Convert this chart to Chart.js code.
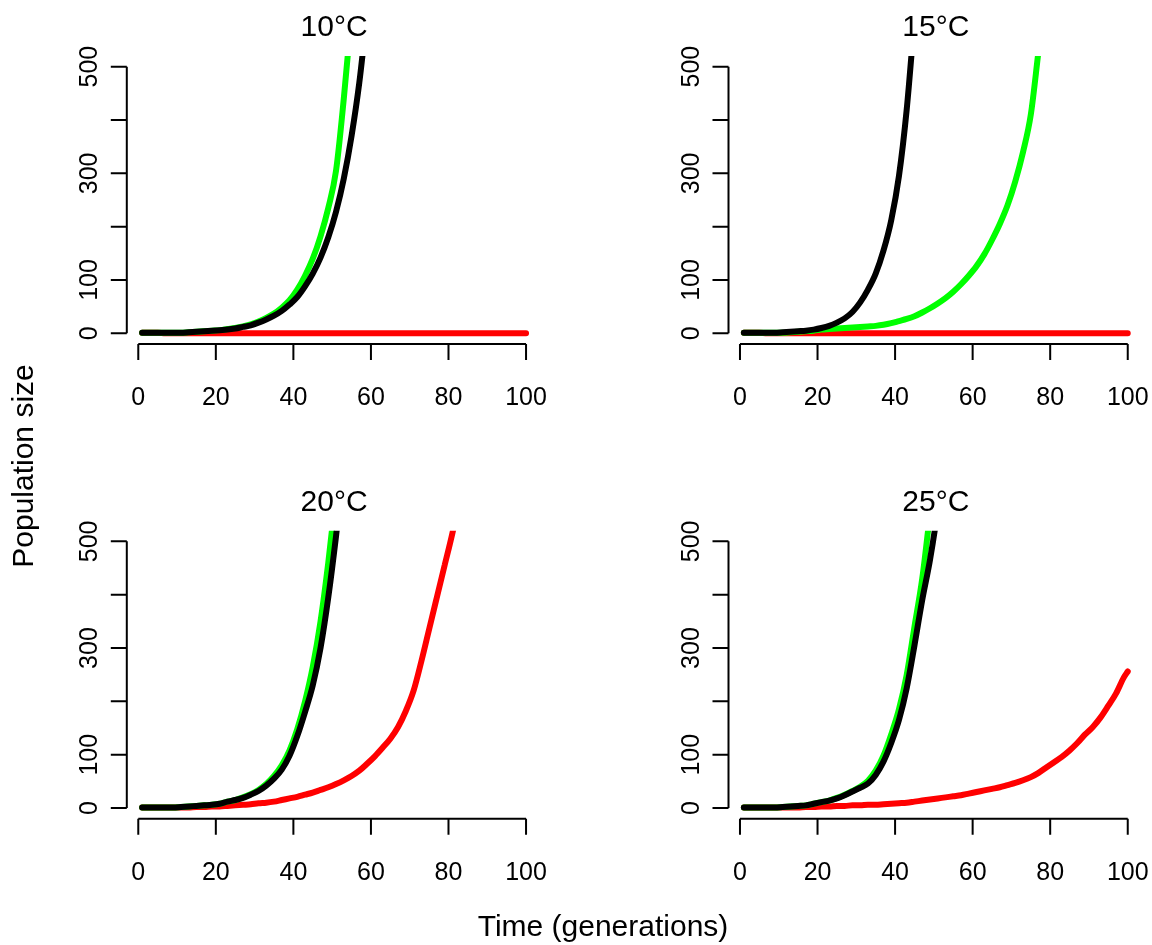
<!DOCTYPE html>
<html><head><meta charset="utf-8">
<script src="https://cdn.jsdelivr.net/npm/chart.js@4.4.0/dist/chart.umd.min.js"></script>
<style>
html,body{margin:0;padding:0;background:#fff;}
#wrap{position:relative;width:1152px;height:945px;overflow:hidden;background:#fff;}
#wrap canvas{position:absolute;left:0;top:0;}
</style></head><body>
<div id="wrap">
<canvas id="c0" width="1152" height="945"></canvas>
<canvas id="c1" width="1152" height="945"></canvas>
<canvas id="c2" width="1152" height="945"></canvas>
<canvas id="c3" width="1152" height="945"></canvas>
</div>
<script>
// ---------- data ----------
const generations = [1,3,5,7,9,11,13,15,17,19,21,23,25,27,29,31,33,35,37,39,41,43,45,47,49,51,53,55,57,59,61,63,65,67,69,71,73,75,77,79,81,83,85,87,89,91,93,95,97,99,100];
const panelTitles = ['10\u00B0C','15\u00B0C','20\u00B0C','25\u00B0C'];
const xTicks = [0,20,40,60,80,100];
const yTicks = [0,100,200,300,400,500];
const yTickLabels = ['0','100','','300','','500'];
const xAxisTitle = 'Time (generations)';
const yAxisTitle = 'Population size';

// 10°C
const green10 = [1,1,1,1,1,1,2,3,4,5,6,8,10,13,17,22,29,37,48,62,82,108,140,182,235,305,440,600];
const black10 = [1,1,1,1,1,1,2,3,4,5,6,7,9,12,15,20,26,33,42,54,68,88,112,142,180,228,290,370,470,600];
const red10   = [1,1,1,0,0,0,0,0,0,0,0,0,0,0,0,0,0,0,0,0,0,0,0,0,0,0,0,0,0,0,0,0,0,0,0,0,0,0,0,0,0,0,0,0,0,0,0,0,0,0,0];
// 15°C
const green15 = [1,1,1,1,1,1,2,3,4,5,7,8,9,10,11,12,13,14,16,19,23,27,32,39,47,56,66,78,92,108,126,148,175,205,240,285,340,410,530,650];
const black15 = [1,1,1,1,1,2,3,4,5,7,10,14,20,28,40,58,82,112,155,212,295,420,590];
const red15   = [1,1,1,0,0,0,0,0,0,0,0,0,0,0,0,0,0,0,0,0,0,0,0,0,0,0,0,0,0,0,0,0,0,0,0,0,0,0,0,0,0,0,0,0,0,0,0,0,0,0,0];
// 20°C
const green20 = [1,1,1,1,1,2,3,4,5,6,8,12,15,20,26,34,45,60,80,108,148,200,265,350,460,590];
const black20 = [1,1,1,1,1,2,3,4,5,6,8,12,15,19,25,32,42,55,72,98,135,180,230,300,395,510,640];
const red20   = [1,1,1,1,1,1,1,2,2,3,3,4,5,6,7,9,10,12,15,18,21,25,29,34,39,45,52,60,70,83,97,113,130,152,182,220,275,335,395,455,515,585];
// 25°C
const green25 = [1,1,1,1,1,2,3,4,5,8,11,14,19,25,32,40,51,70,98,138,185,250,340,430,550,660];
const black25 = [1,1,1,1,1,2,3,4,5,8,11,14,18,24,31,38,46,62,87,122,165,225,305,390,465,560,680];
const red25   = [1,1,1,1,1,1,1,1,2,2,3,3,4,4,5,5,6,6,7,8,9,10,12,14,16,18,20,22,24,27,30,33,36,39,43,47,52,58,66,76,86,96,108,122,138,152,170,192,215,245,256];

// first listed is drawn on top
const panelSeries = [
  [black10, green10, red10],
  [black15, green15, red15],
  [black20, green20, red20],
  [black25, green25, red25]
];
const seriesColors = ['#000000', '#00ff00', '#ff0000'];

// ---------- layout (page pixels) ----------
const W = 1152, H = 945;
const plotBoxes = [
  {l:126.8, r:541.4, t:56,    b:344},
  {l:728.5, r:1143.1, t:56,   b:344},
  {l:126.8, r:541.4, t:530.7, b:818.7},
  {l:728.5, r:1143.1, t:530.7, b:818.7}
];
const FONT = '"Liberation Sans", Arial, Helvetica, sans-serif';

function toPoints(vals){
  return vals.map((v,i)=>({x:generations[i], y:v}));
}

const rAxes = {
  id:'rAxes',
  afterDraw(chart, args, opts){
    const ctx = chart.ctx, x = chart.scales.x, y = chart.scales.y, ca = chart.chartArea;
    ctx.save();
    ctx.strokeStyle = '#000'; ctx.lineWidth = 2; ctx.lineCap = 'butt';
    const axY = ca.bottom;
    ctx.beginPath();
    ctx.moveTo(x.getPixelForValue(xTicks[0]), axY);
    ctx.lineTo(x.getPixelForValue(xTicks[xTicks.length-1]), axY);
    xTicks.forEach(t=>{ const p = x.getPixelForValue(t); ctx.moveTo(p, axY); ctx.lineTo(p, axY+16); });
    const axX = ca.left;
    ctx.moveTo(axX, y.getPixelForValue(yTicks[0]));
    ctx.lineTo(axX, y.getPixelForValue(yTicks[yTicks.length-1]));
    yTicks.forEach(v=>{ const p = y.getPixelForValue(v); ctx.moveTo(axX, p); ctx.lineTo(axX-16, p); });
    ctx.stroke();
    ctx.fillStyle = '#000';
    ctx.font = '25px ' + FONT;
    ctx.textAlign = 'center'; ctx.textBaseline = 'alphabetic';
    xTicks.forEach(t=> ctx.fillText(String(t), x.getPixelForValue(t), axY + 61));
    yTicks.forEach((v,i)=>{
      const lbl = yTickLabels[i];
      if(!lbl) return;
      ctx.save();
      ctx.translate(axX - 30, y.getPixelForValue(v));
      ctx.rotate(-Math.PI/2);
      ctx.fillText(lbl, 0, 0);
      ctx.restore();
    });
    ctx.font = '30px ' + FONT;
    ctx.fillText(opts.title, (ca.left + ca.right)/2, ca.top - 20);
    if (opts.outer){
      ctx.fillText(xAxisTitle, 603, 936);
      ctx.save();
      ctx.translate(33, 466);
      ctx.rotate(-Math.PI/2);
      ctx.fillText(yAxisTitle, 0, 0);
      ctx.restore();
    }
    ctx.restore();
  }
};

panelSeries.forEach((series, k)=>{
  const box = plotBoxes[k];
  new Chart(document.getElementById('c'+k), {
    type:'line',
    data:{
      datasets: series.map((vals, j)=>({
        data: toPoints(vals),
        borderColor: seriesColors[j],
        backgroundColor: seriesColors[j],
        borderWidth: 6,
        borderCapStyle: 'round',
        borderJoinStyle: 'round',
        pointRadius: 0,
        fill: false,
        cubicInterpolationMode: 'monotone',
        clip: 0
      }))
    },
    options:{
      responsive:false,
      animation:false,
      devicePixelRatio:1,
      events:[],
      layout:{padding:{left:box.l, right:W-box.r, top:box.t, bottom:H-box.b}},
      scales:{
        x:{type:'linear', min:-2.96, max:103.96, display:false},
        y:{type:'linear', min:-20, max:520, display:false}
      },
      plugins:{
        legend:{display:false},
        tooltip:{enabled:false},
        rAxes:{title: panelTitles[k], outer: k===0}
      }
    },
    plugins:[rAxes]
  });
});
</script>
</body></html>
